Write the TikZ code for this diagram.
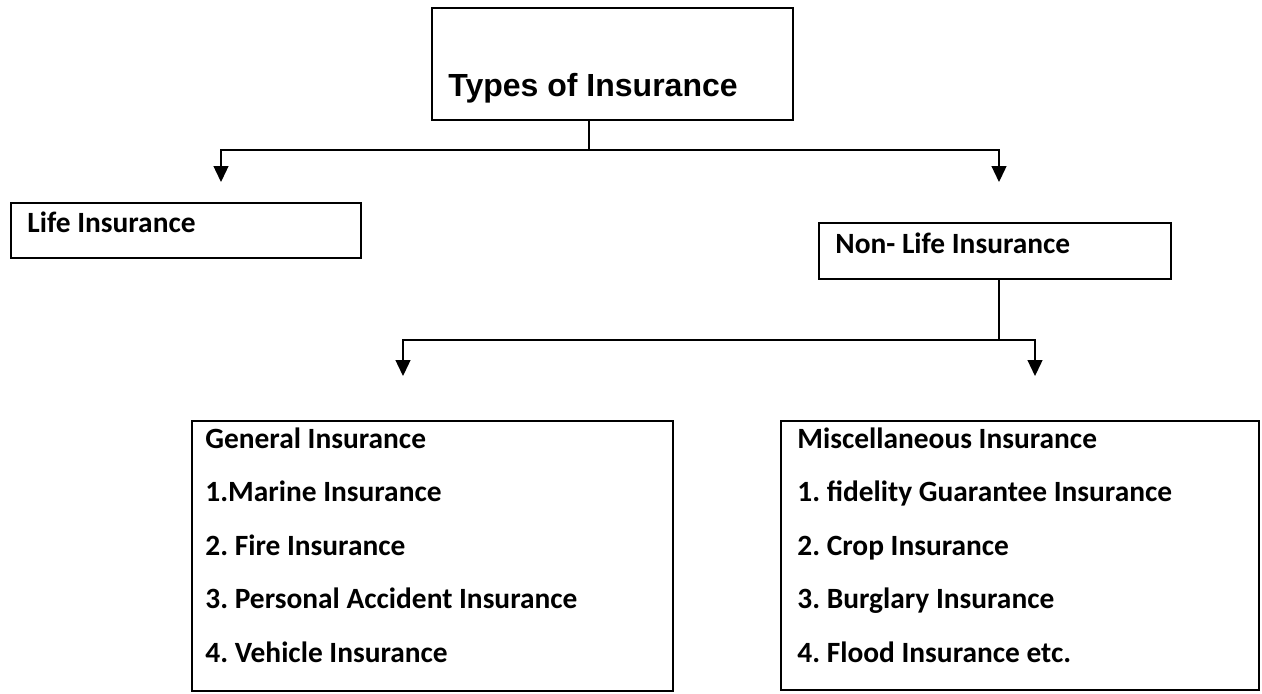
\documentclass[tikz,border=0pt]{standalone}
\usepackage{fontspec}
\setmainfont{Carlito}
\newfontfamily\arialfont{Liberation Sans}
\usetikzlibrary{arrows.meta,fit}
\frenchspacing
\tikzset{
  box/.style={draw=black, line width=1pt, inner sep=0pt, fill=none},
  conn/.style={draw=black, line width=0.65pt},
  arr/.style={conn, -{Triangle[width=7.5pt,length=8pt]}},
  txt/.style={anchor=base west, inner sep=0pt, font=\fontsize{14.7}{17}\selectfont\bfseries},
  ttl/.style={anchor=base west, inner sep=0pt, font=\arialfont\fontsize{16}{19}\selectfont\bfseries}
}
\begin{document}
\begin{tikzpicture}[x=0.5pt, y=-0.5pt]
\useasboundingbox (0,0) rectangle (1262,693);
% boxes
\node[box, fit={(432,8) (793,120)}] (title) {};
\node[box, fit={(11,203) (361,258)}] (life) {};
\node[box, fit={(819,223) (1171,279)}] (nonlife) {};
\node[box, fit={(192,421) (673,691)}] (general) {};
\node[box, fit={(781,421) (1259,690)}] (misc) {};
% texts
\node[ttl] (ttltext) at (448,96) {Types of Insurance};
\node[txt] (lifetext) at (27,232) {Life Insurance};
\node[txt] (nltext) at (835,253) {Non- Life Insurance};
\node[txt] (g0) at (205,448) {General Insurance};
\node[txt] (g1) at (205,501.5) {1.Marine Insurance};
\node[txt] (g2) at (205,555) {2. Fire Insurance};
\node[txt] (g3) at (205,608.5) {3. Personal Accident Insurance};
\node[txt] (g4) at (205,662) {4. Vehicle Insurance};
\node[txt] (m0) at (797,448) {Miscellaneous Insurance};
\node[txt] (m1) at (797,501.5) {1. fidelity Guarantee Insurance};
\node[txt] (m2) at (797,555) {2. Crop Insurance};
\node[txt] (m3) at (797,608.5) {3. Burglary Insurance};
\node[txt] (m4) at (797,662) {4. Flood Insurance etc.};
% connector coordinates
\coordinate (j1) at (589,150);
\coordinate (a1) at (221,182);
\coordinate (a2) at (999,182);
\coordinate (j2) at (999,340);
\coordinate (b1) at (403,376);
\coordinate (b2) at (1035,376);
% connectors
\draw[conn] (title.south -| j1) -- (j1);
\draw[arr] (j1) -| (a1);
\draw[arr] (j1) -| (a2);
\draw[conn] (nonlife.south -| j2) -- (j2);
\draw[arr] (j2) -| (b1);
\draw[arr] (j2) -| (b2);
\end{tikzpicture}
\end{document}
